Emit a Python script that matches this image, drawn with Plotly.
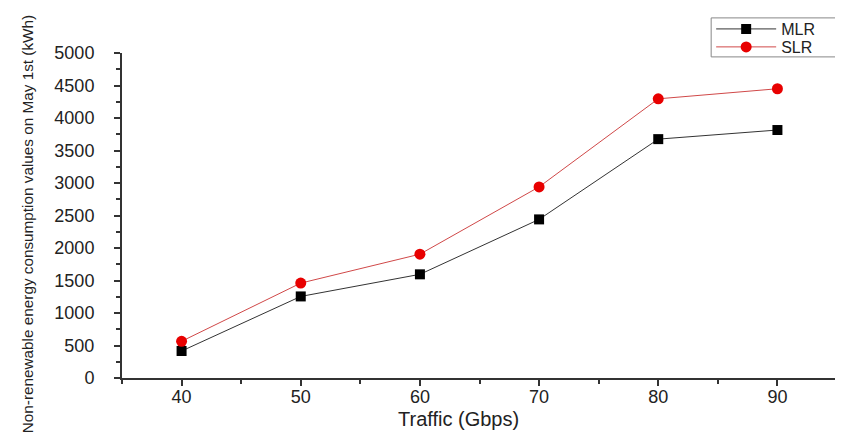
import plotly.graph_objects as go

traffic = [40, 50, 60, 70, 80, 90]
mlr = [415, 1255, 1595, 2440, 3675, 3815]
slr = [565, 1460, 1905, 2940, 4295, 4450]
x_ticks = [40, 50, 60, 70, 80, 90]
y_ticks = [0, 500, 1000, 1500, 2000, 2500, 3000, 3500, 4000, 4500, 5000]

FONT = "Liberation Sans, Arial, sans-serif"
INK = "#222222"

fig = go.Figure()
fig.add_trace(go.Scatter(
    x=traffic, y=mlr, name="MLR", mode="lines+markers",
    line=dict(color="#333333", width=1),
    marker=dict(symbol="square", size=10, color="#000000"),
    legend="legend",
))
fig.add_trace(go.Scatter(
    x=traffic, y=slr, name="SLR", mode="lines+markers",
    line=dict(color="#d04848", width=1),
    marker=dict(symbol="circle", size=11, color="#e80000"),
    legend="legend2",
))

leg_common = dict(
    xanchor="left", yanchor="middle", borderwidth=0,
    bgcolor="rgba(0,0,0,0)", font=dict(family=FONT, size=16, color=INK),
    itemwidth=60,
)
axis_font = dict(family=FONT, size=18, color=INK)

fig.update_layout(
    width=843, height=443,
    margin=dict(l=114, r=14, t=45, b=73, autoexpand=False),
    paper_bgcolor="white", plot_bgcolor="white",
    showlegend=True,
    legend=dict(x=0.824, y=1.0738, **leg_common),
    legend2=dict(x=0.824, y=1.0185, **leg_common),
    shapes=[dict(type="rect", xref="paper", yref="paper",
                 x0=0.824, x1=1.04, y0=0.988, y1=1.108,
                 line=dict(color="#888888", width=1), fillcolor="rgba(0,0,0,0)", layer="below")],
    xaxis=dict(
        range=[35, 95], tickvals=x_ticks, ticktext=[str(v) for v in x_ticks],
        showline=True, linecolor="#333333", linewidth=2, mirror=False,
        ticks="outside", ticklen=6, tickwidth=2, tickcolor="#333333",
        minor=dict(dtick=5, tick0=35, ticks="outside", ticklen=4, tickwidth=1.5, tickcolor="#333333"),
        showgrid=False, zeroline=False, tickfont=axis_font, ticklabelstandoff=-5,
    ),
    yaxis=dict(
        range=[0, 5000], tickvals=y_ticks, ticktext=[str(v) for v in y_ticks],
        showline=True, linecolor="#333333", linewidth=2,
        ticks="outside", ticklen=6, tickwidth=2, tickcolor="#333333",
        minor=dict(dtick=250, tick0=0, ticks="outside", ticklen=4, tickwidth=1.5, tickcolor="#333333"),
        showgrid=False, zeroline=False, tickfont=axis_font, ticklabelstandoff=16,
    ),
    annotations=[
        dict(text="Traffic (Gbps)", xref="paper", yref="paper", x=0.471, y=-0.125,
             xanchor="center", yanchor="middle", showarrow=False,
             font=dict(family=FONT, size=20, color=INK)),
        dict(text="Non-renewable energy consumption values on May 1st (kWh)",
             xref="paper", yref="paper", x=-0.132, y=0.472, textangle=-90,
             xanchor="center", yanchor="middle", showarrow=False,
             font=dict(family=FONT, size=15.3, color=INK)),
    ],
)

fig.write_html("out.html")
